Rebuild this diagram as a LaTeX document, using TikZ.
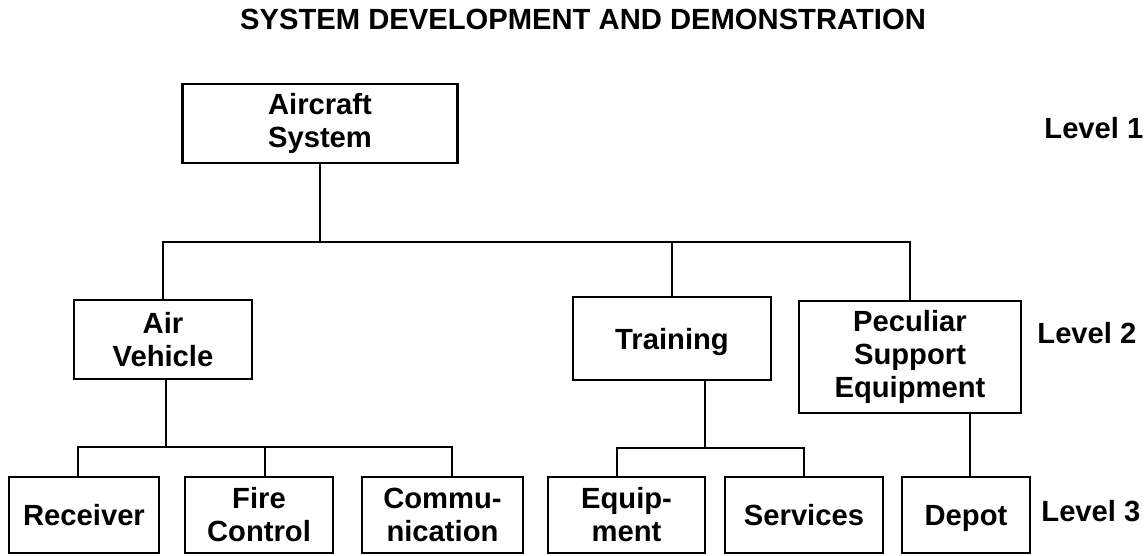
\documentclass[tikz,border=0pt]{standalone}
\usepackage{fontspec}
\setmainfont{Liberation Sans}
\definecolor{wbsink}{HTML}{000000}
\newcommand{\nodepth}[1]{\raisebox{0pt}[\height][0pt]{#1}}

\begin{document}
\begin{tikzpicture}[
  x=0.5pt,
  y=-0.5pt,
  every node/.style={font=\fontsize{14.6}{16.5}\selectfont\bfseries, wbsink},
  wbsbox/.style={draw=wbsink, line width=1.4pt, align=center, inner sep=0pt},
  wire/.style={wbsink, line width=1.4pt},
  levellabel/.style={anchor=west, inner sep=0pt}
]
  \useasboundingbox (0,0) rectangle (1146,556);

  %% ---- title ----------------------------------------------------------
  \node (title) at (583,19.5) {SYSTEM DEVELOPMENT AND DEMONSTRATION};

  %% ---- level 1 and level 2 boxes --------------------------------------
  \node[wbsbox, minimum width=137.5pt, minimum height=39.5pt] (sys) at (320,123.5) {Aircraft\\System};
  \node[wbsbox, minimum width=89pt, minimum height=39.5pt] (av) at (163,339.5) {Air\\Vehicle};
  \node[wbsbox, minimum width=99pt, minimum height=41.5pt] (tr) at (672,338.5) {\nodepth{Training}};
  \node[wbsbox, minimum width=111pt, minimum height=56pt] (pse) at (910,357) {Peculiar\\Support\\Equipment};

  %% ---- level 3 boxes, one row at y = 515 -------------------------------
  \foreach \n/\cx/\w/\t in {rcv/84/75pt/Receiver, fc/259/74pt/{Fire\\Control},
      com/442.5/80.5pt/{Commu-\\nication}, eqp/626.5/78.5pt/{Equip-\\ment},
      srv/804/79pt/Services, dep/966/64pt/{\nodepth{Depot}}}
    \node[wbsbox, minimum width=\w, minimum height=38pt] (\n) at (\cx,515) {\t};

  %% ---- level 1 to level 2 ---------------------------------------------
  \coordinate (hub) at (320,242);
  \draw[wire] (sys.south) -- (hub);
  \draw[wire] (av.north) -- (av.north |- hub) -- (pse.north |- hub) -- (pse.north);
  \draw[wire] (tr.north |- hub) -- (tr.north);

  %% ---- air vehicle to its three parts ---------------------------------
  % the drops sit a little off the box centres, as in the chart
  \coordinate (avhub) at (166,447);
  \coordinate (rcvdrop) at (78,447);
  \coordinate (fcdrop) at (265,447);
  \coordinate (comdrop) at (452,447);
  \draw[wire] (avhub |- av.south) -- (avhub);
  \draw[wire] (rcvdrop |- rcv.north) -- (rcvdrop) -- (comdrop) -- (comdrop |- com.north);
  \draw[wire] (fcdrop) -- (fcdrop |- fc.north);

  %% ---- training to its two parts --------------------------------------
  \coordinate (trhub) at (705,448);
  \coordinate (eqpdrop) at (617,448);
  \coordinate (srvdrop) at (804,448);
  \draw[wire] (trhub |- tr.south) -- (trhub);
  \draw[wire] (eqpdrop |- eqp.north) -- (eqpdrop) -- (srvdrop) -- (srvdrop |- srv.north);

  %% ---- support equipment to depot -------------------------------------
  \coordinate (depdrop) at (970,413);
  \draw[wire] (depdrop |- pse.south) -- (depdrop |- dep.north);

  %% ---- level labels, right margin -------------------------------------
  \node[levellabel] (lvla) at (1044,128) {Level 1};
  \node[levellabel] (lvlb) at (1037,333) {Level 2};
  \node[levellabel] (lvlc) at (1041,511) {Level 3};

\end{tikzpicture}
\end{document}
